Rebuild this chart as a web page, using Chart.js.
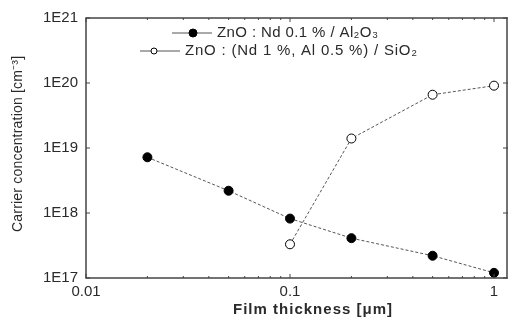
<!DOCTYPE html>
<html>
<head>
<meta charset="utf-8">
<script src="https://cdn.jsdelivr.net/npm/chart.js@4/dist/chart.umd.min.js"></script>
<style>
  html, body { margin: 0; padding: 0; background: #fff; }
  #wrap { width: 508px; height: 320px; }
</style>
</head>
<body>
<div id="wrap"><canvas id="chart" width="508" height="320"></canvas></div>
<script>
const thickness = [0.02, 0.05, 0.1, 0.2, 0.5, 1];
const ndAl2o3 = [7.2e18, 2.2e18, 8.2e17, 4.1e17, 2.2e17, 1.2e17];
const thicknessSio2 = [0.1, 0.2, 0.5, 1];
const ndAlSio2 = [3.3e17, 1.4e19, 6.6e19, 9.1e19];
const xMajor = [0.01, 0.1, 1];
const yMajor = [1e17, 1e18, 1e19, 1e20, 1e21];
const xMinor = [0.02, 0.03, 0.04, 0.05, 0.06, 0.07, 0.08, 0.09, 0.2, 0.3, 0.4, 0.5, 0.6, 0.7, 0.8, 0.9];
const legendLabels = ["ZnO : Nd 0.1 % / Al\u2082O\u2083", "ZnO : (Nd 1 %, Al 0.5 %) / SiO\u2082"];
const xTitle = "Film thickness [\u03bcm]";
const yTitle = "Carrier concentration [cm\u207b\u00b3]";

const FONT = "'Liberation Sans', Arial, sans-serif";
const INK = "#2a2a2a";

// draws text stretched (via letter spacing) to roughly a given width
function spacedText(ctx, text, x, y, width) {
  ctx.letterSpacing = "0px";
  const w = ctx.measureText(text).width;
  const sp = Math.max(0, (width - w) / Math.max(1, text.length - 1));
  ctx.letterSpacing = sp.toFixed(2) + "px";
  ctx.fillText(text, x, y);
  ctx.letterSpacing = "0px";
}

// frame + inward ticks on all four sides
const framePlugin = {
  id: "frame",
  afterDatasetsDraw(chart) {
    const { ctx, chartArea: a, scales } = chart;
    const x = scales.x, y = scales.y;
    ctx.save();
    ctx.strokeStyle = "#444";
    ctx.lineWidth = 1.5;
    ctx.strokeRect(a.left, a.top, a.right - a.left - 1, a.bottom - a.top);
    ctx.lineWidth = 1;
    ctx.beginPath();
    xMajor.forEach(v => {
      const px = x.getPixelForValue(v);
      ctx.moveTo(px, a.bottom); ctx.lineTo(px, a.bottom - 4);
      ctx.moveTo(px, a.top); ctx.lineTo(px, a.top + 4);
    });
    xMinor.forEach(v => {
      const px = x.getPixelForValue(v);
      ctx.moveTo(px, a.bottom); ctx.lineTo(px, a.bottom - 2);
      ctx.moveTo(px, a.top); ctx.lineTo(px, a.top + 2);
    });
    yMajor.forEach(v => {
      const py = y.getPixelForValue(v);
      ctx.moveTo(a.left, py); ctx.lineTo(a.left + 4, py);
      ctx.moveTo(a.right, py); ctx.lineTo(a.right - 5, py);
    });
    ctx.stroke();

    // axis titles
    ctx.fillStyle = INK;
    ctx.textBaseline = "middle";
    ctx.textAlign = "left";
    ctx.font = "bold 15px " + FONT;
    spacedText(ctx, xTitle, 233, 310, 159);
    ctx.save();
    ctx.translate(18, 232);
    ctx.rotate(-Math.PI / 2);
    ctx.font = "14px " + FONT;
    spacedText(ctx, yTitle, 0, 0, 176);
    ctx.restore();
    ctx.restore();
  }
};

// legend drawn inside the plot, near the top
const legendPlugin = {
  id: "insideLegend",
  afterDatasetsDraw(chart) {
    const { ctx } = chart;
    const rows = [
      { x0: 172, x1: 212, y: 33, tx: 217, w: 161, filled: true },
      { x0: 140, x1: 180, y: 51, tx: 185, w: 232, filled: false }
    ];
    ctx.save();
    ctx.font = "15px " + FONT;
    ctx.textBaseline = "middle";
    rows.forEach((r, i) => {
      ctx.strokeStyle = "#555";
      ctx.lineWidth = 1;
      ctx.beginPath();
      ctx.moveTo(r.x0, r.y); ctx.lineTo(r.x1, r.y);
      ctx.stroke();
      ctx.beginPath();
      ctx.arc(r.filled ? 193 : 154, r.y, r.filled ? 4 : 3, 0, Math.PI * 2);
      ctx.fillStyle = r.filled ? "#000" : "#fff";
      ctx.fill();
      ctx.strokeStyle = "#000";
      ctx.stroke();
      ctx.fillStyle = INK;
      spacedText(ctx, legendLabels[i], r.tx, r.y, r.w);
    });
    ctx.restore();
  }
};

new Chart(document.getElementById("chart"), {
  type: "line",
  data: {
    datasets: [
      {
        label: legendLabels[0],
        data: thickness.map((t, i) => ({ x: t, y: ndAl2o3[i] })),
        borderColor: "#555",
        borderWidth: 1,
        borderDash: [3, 2],
        pointRadius: 4.5,
        pointBackgroundColor: "#000",
        pointBorderColor: "#000",
        pointBorderWidth: 1
      },
      {
        label: legendLabels[1],
        data: thicknessSio2.map((t, i) => ({ x: t, y: ndAlSio2[i] })),
        borderColor: "#555",
        borderWidth: 1,
        borderDash: [3, 2],
        pointRadius: 4.5,
        pointBackgroundColor: "#fff",
        pointBorderColor: "#000",
        pointBorderWidth: 1
      }
    ]
  },
  options: {
    responsive: false,
    animation: false,
    layout: { autoPadding: false, padding: { top: 18, right: 0, left: 0, bottom: 0 } },
    plugins: { legend: { display: false }, tooltip: { enabled: false } },
    scales: {
      x: {
        type: "logarithmic",
        min: 0.01,
        max: 1.171,
        afterBuildTicks: s => { s.ticks = xMajor.map(v => ({ value: v })); },
        afterFit: s => { s.height = 42; s.paddingLeft = 0; s.paddingRight = 0; },
        grid: { display: false, drawTicks: false },
        border: { display: false },
        ticks: {
          autoSkip: false,
          maxRotation: 0,
          padding: 5,
          color: INK,
          font: { family: FONT, size: 15 },
          callback: v => String(v)
        }
      },
      y: {
        type: "logarithmic",
        min: 1e17,
        max: 1e21,
        afterBuildTicks: s => { s.ticks = yMajor.map(v => ({ value: v })); },
        afterFit: s => { s.width = 86; s.paddingTop = 0; s.paddingBottom = 0; },
        grid: { display: false, drawTicks: false },
        border: { display: false },
        ticks: {
          autoSkip: false,
          padding: 8,
          color: INK,
          font: { family: FONT, size: 15 },
          callback: v => "1E" + Math.round(Math.log10(v))
        }
      }
    }
  },
  plugins: [framePlugin, legendPlugin]
});
</script>
</body>
</html>
